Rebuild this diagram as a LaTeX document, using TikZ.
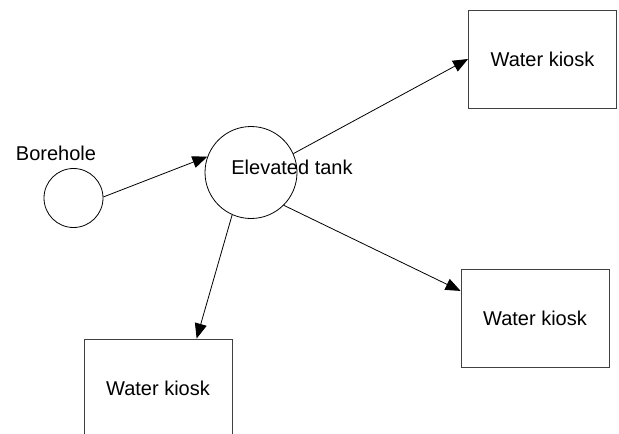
\documentclass[tikz,border=0pt]{standalone}
\usepackage{fontspec}
\setmainfont{Liberation Sans}
\usetikzlibrary{arrows.meta}
\begin{document}
\begin{tikzpicture}[x=1pt,y=-1pt,
  every node/.style={font=\fontsize{20}{24}\selectfont},
  site/.style={draw=black, line width=0.8pt, circle, inner sep=0pt},
  kiosk/.style={draw=black!75, line width=0.9pt, rectangle, inner sep=0pt,
    minimum width=148pt, minimum height=98pt},
  flow/.style={draw=black, line width=0.8pt,
    -{Triangle[length=15pt,width=12pt]}}]
  \clip (0,0) rectangle (619,434);
  % sources
  \node[site, minimum size=59pt] (bh) at (73.5,198) {};
  \node (bhlabel) at (56,153) {Borehole};
  \node[site, minimum size=92pt] (tank) at (251,172.5) {};
  \node (tanklabel) at (292,167) {Elevated tank};
  % kiosks
  \node[kiosk] (k1) at (542.5,59) {Water kiosk};
  \node[kiosk] (k2) at (535,318) {Water kiosk};
  \node[kiosk] (k3) at (158,388) {Water kiosk};
  % supply lines
  \draw[flow] (bh.2) -- (tank.160);
  \draw[flow] (tank.24) -- (k1.west);
  \draw[flow] (tank.315.4) -- (k2.160.6);
  \draw[flow] (tank.246.9) -- (k3.52.9);
\end{tikzpicture}
\end{document}
